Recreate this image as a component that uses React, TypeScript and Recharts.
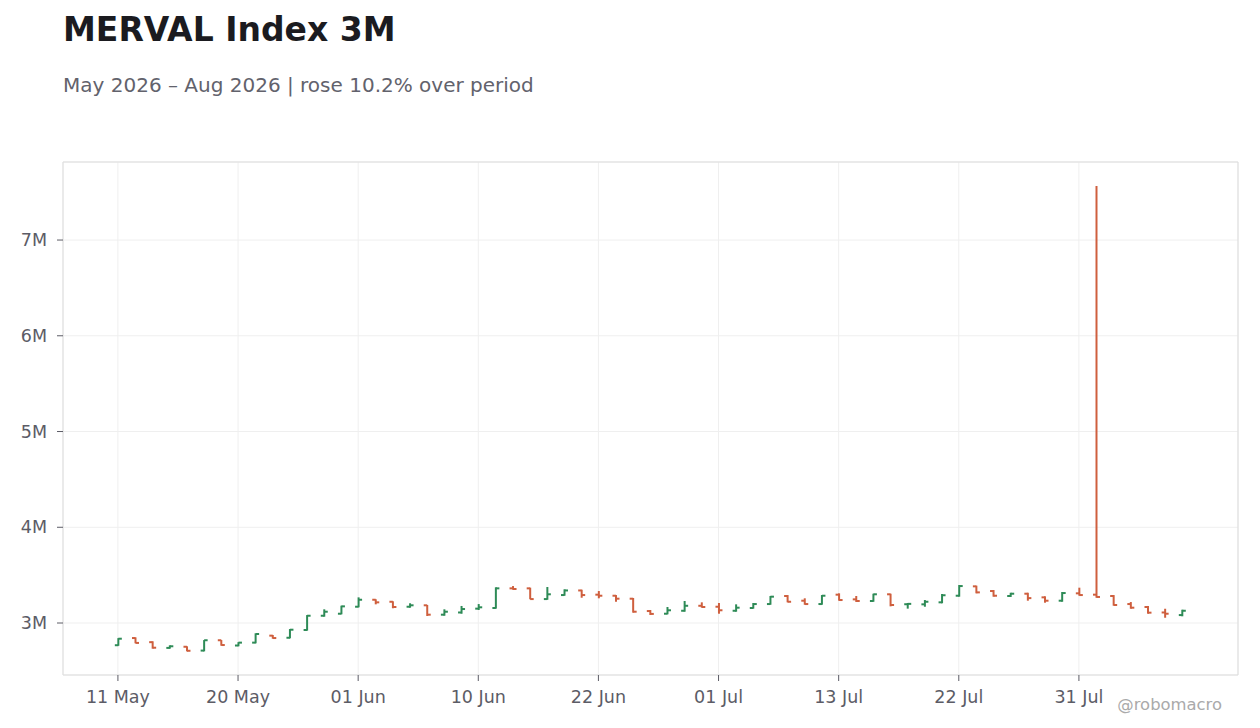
import React from "react";
import {
  ComposedChart,
  Bar,
  XAxis,
  YAxis,
  CartesianGrid,
  ReferenceArea,
} from "recharts";

// Trading-day labels (one per bar)
const dates: string[] = [
  "11 May", "12 May", "13 May", "14 May", "15 May", "18 May", "19 May", "20 May", "21 May", "22 May",
  "26 May", "27 May", "28 May", "29 May", "01 Jun", "02 Jun", "03 Jun", "04 Jun", "05 Jun", "08 Jun",
  "09 Jun", "10 Jun", "11 Jun", "12 Jun", "16 Jun", "17 Jun", "18 Jun", "19 Jun", "22 Jun", "23 Jun",
  "24 Jun", "25 Jun", "26 Jun", "29 Jun", "30 Jun", "01 Jul", "02 Jul", "03 Jul", "06 Jul", "07 Jul",
  "08 Jul", "10 Jul", "13 Jul", "14 Jul", "15 Jul", "16 Jul", "17 Jul", "20 Jul", "21 Jul", "22 Jul",
  "23 Jul", "24 Jul", "27 Jul", "28 Jul", "29 Jul", "30 Jul", "31 Jul", "03 Aug", "04 Aug", "05 Aug",
  "06 Aug", "07 Aug", "10 Aug",
];

// Values in millions
const opens: number[] = [
  2.768, 2.843, 2.8, 2.74, 2.752, 2.712, 2.82, 2.765, 2.795, 2.868,
  2.846, 2.927, 3.076, 3.097, 3.17, 3.243, 3.222, 3.17, 3.185, 3.087,
  3.11, 3.15, 3.157, 3.362, 3.362, 3.25, 3.292, 3.34, 3.296, 3.285,
  3.254, 3.125, 3.097, 3.128, 3.18, 3.17, 3.128, 3.157, 3.198, 3.282,
  3.233, 3.198, 3.296, 3.247, 3.23, 3.3, 3.196, 3.195, 3.216, 3.285,
  3.383, 3.334, 3.282, 3.306, 3.268, 3.233, 3.31, 3.296, 3.282, 3.198,
  3.167, 3.11, 3.083,
];
const highs: number[] = [
  2.842, 2.85, 2.809, 2.767, 2.757, 2.822, 2.822, 2.8, 2.892, 2.875,
  2.937, 3.083, 3.143, 3.181, 3.268, 3.248, 3.227, 3.206, 3.188, 3.143,
  3.178, 3.198, 3.373, 3.386, 3.369, 3.376, 3.352, 3.348, 3.334, 3.292,
  3.261, 3.136, 3.167, 3.23, 3.216, 3.209, 3.195, 3.209, 3.282, 3.292,
  3.258, 3.292, 3.31, 3.282, 3.306, 3.306, 3.209, 3.24, 3.303, 3.397,
  3.39, 3.345, 3.316, 3.316, 3.279, 3.324, 3.369, 7.564, 3.292, 3.219,
  3.178, 3.149, 3.139,
];
const lows: number[] = [
  2.762, 2.788, 2.732, 2.732, 2.704, 2.704, 2.763, 2.757, 2.788, 2.836,
  2.84, 2.92, 3.066, 3.091, 3.164, 3.195, 3.154, 3.16, 3.073, 3.076,
  3.097, 3.136, 3.15, 3.348, 3.248, 3.243, 3.285, 3.264, 3.258, 3.222,
  3.108, 3.084, 3.091, 3.118, 3.16, 3.097, 3.118, 3.15, 3.191, 3.216,
  3.191, 3.191, 3.233, 3.22, 3.222, 3.174, 3.15, 3.17, 3.206, 3.275,
  3.31, 3.275, 3.272, 3.233, 3.212, 3.222, 3.285, 3.264, 3.181, 3.149,
  3.097, 3.055, 3.07,
];
const closes: number[] = [
  2.836, 2.792, 2.742, 2.757, 2.71, 2.82, 2.77, 2.795, 2.885, 2.843,
  2.93, 3.076, 3.118, 3.174, 3.243, 3.216, 3.167, 3.185, 3.087, 3.118,
  3.146, 3.164, 3.362, 3.355, 3.25, 3.3, 3.34, 3.292, 3.285, 3.254,
  3.118, 3.095, 3.133, 3.18, 3.167, 3.133, 3.16, 3.198, 3.275, 3.222,
  3.198, 3.285, 3.24, 3.23, 3.3, 3.188, 3.2, 3.222, 3.29, 3.386,
  3.32, 3.285, 3.306, 3.26, 3.233, 3.313, 3.292, 3.272, 3.188, 3.16,
  3.108, 3.097, 3.128,
];

const xTicks: number[] = [0, 7, 14, 21, 28, 35, 42, 49, 56];
const yTicks: number[] = [3, 4, 5, 6, 7];

const X_DOMAIN: [number, number] = [-3.2, 65.27];
const Y_DOMAIN: [number, number] = [2.457, 7.815];

const UP = "#2e8b57";
const DOWN = "#cf5f3e";
const FONT = "'DejaVu Sans', sans-serif";

const data = dates.map((d, i) => ({
  i,
  date: d,
  open: opens[i],
  high: highs[i],
  low: lows[i],
  close: closes[i],
}));

const OhlcShape = (props: any) => {
  const { x, y, width, height, payload } = props;
  if (x == null || y == null) return null;
  const cx = x + width / 2;
  const top = Math.min(y, y + height);
  const bot = Math.max(y, y + height);
  const { open, high, low, close } = payload;
  const span = high - low || 1;
  const yOpen = top + ((high - open) / span) * (bot - top);
  const yClose = top + ((high - close) / span) * (bot - top);
  const color = close >= open ? UP : DOWN;
  return (
    <g>
      <line x1={cx} x2={cx} y1={top} y2={bot} stroke={color} strokeWidth={2} />
      <line x1={cx - 3.5} x2={cx} y1={yOpen} y2={yOpen} stroke={color} strokeWidth={2} />
      <line x1={cx} x2={cx + 3.5} y1={yClose} y2={yClose} stroke={color} strokeWidth={2} />
    </g>
  );
};

export default function App() {
  return (
    <div
      style={{
        position: "absolute",
        left: 0,
        top: 0,
        width: 1260,
        height: 728,
        background: "#ffffff",
        fontFamily: FONT,
        overflow: "hidden",
      }}
    >
      <div
        style={{
          position: "absolute",
          left: 63,
          top: 13,
          fontSize: 33,
          lineHeight: "33px",
          fontWeight: 700,
          color: "#1b1b20",
          whiteSpace: "nowrap",
        }}
      >
        MERVAL Index 3M
      </div>
      <div
        style={{
          position: "absolute",
          left: 63,
          top: 75,
          fontSize: 20,
          lineHeight: "20px",
          color: "#62626c",
          whiteSpace: "nowrap",
        }}
      >
        May 2026 – Aug 2026 | rose 10.2% over period
      </div>
      <div style={{ position: "absolute", left: 0, top: 0 }}>
        <ComposedChart
          width={1260}
          height={728}
          data={data}
          margin={{ top: 162, right: 22, bottom: 23, left: 13 }}
        >
          <CartesianGrid stroke="#efefef" strokeWidth={1} />
          <XAxis
            type="number"
            dataKey="i"
            domain={X_DOMAIN}
            ticks={xTicks}
            allowDataOverflow
            interval={0}
            height={30}
            tickFormatter={(v: number) => dates[v] ?? ""}
            tickSize={6}
            tickMargin={10}
            axisLine={false}
            tickLine={{ stroke: "#5c5c66" }}
            tick={{ fill: "#5c5c66", fontSize: 17.5, fontFamily: FONT }}
          />
          <YAxis
            type="number"
            domain={Y_DOMAIN}
            ticks={yTicks}
            allowDataOverflow
            width={50}
            tickFormatter={(v: number) => `${v}M`}
            tickSize={6}
            tickMargin={10}
            axisLine={false}
            tickLine={{ stroke: "#5c5c66" }}
            tick={{ fill: "#5c5c66", fontSize: 17.5, fontFamily: FONT }}
          />
          <ReferenceArea
            x1={X_DOMAIN[0]}
            x2={X_DOMAIN[1]}
            y1={Y_DOMAIN[0]}
            y2={Y_DOMAIN[1]}
            fill="none"
            stroke="#dddddd"
            strokeWidth={1}
            ifOverflow="visible"
          />
          <Bar
            dataKey={(d: any) => [d.low, d.high]}
            barSize={8}
            shape={OhlcShape}
            isAnimationActive={false}
          />
        </ComposedChart>
      </div>
      <div
        style={{
          position: "absolute",
          right: 38,
          top: 697,
          fontSize: 16.4,
          lineHeight: "16.4px",
          color: "#aaaaaa",
          whiteSpace: "nowrap",
        }}
      >
        @robomacro
      </div>
    </div>
  );
}
